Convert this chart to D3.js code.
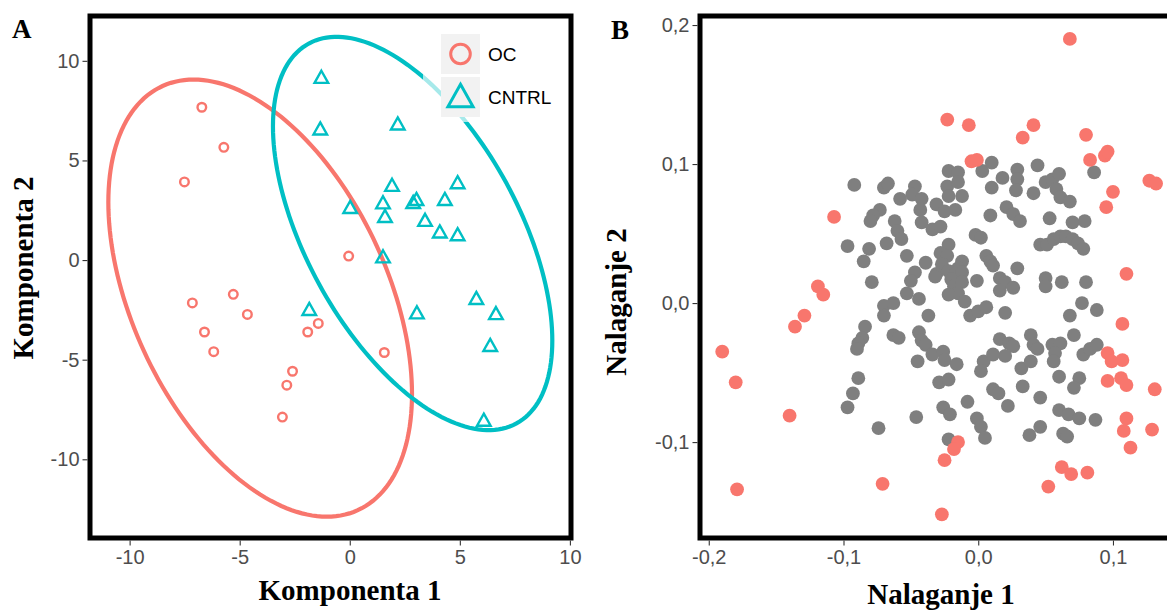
<!DOCTYPE html>
<html><head><meta charset="utf-8">
<script src="https://cdn.jsdelivr.net/npm/d3@7"></script>
<style>body{margin:0;background:#fff}</style>
</head><body><svg id="c" width="1167" height="610" xmlns="http://www.w3.org/2000/svg"></svg>
<script>
// ---------- Panel A data ----------
const groups = ["OC", "CNTRL"];
const groupColors = ["#F8766D", "#00BFC4"];
const ocX = [-6.72, -5.72, -7.51, -0.05, -7.15, -5.29, -4.65, -6.60, -6.18, -1.91, -1.43, -2.60, -2.86, -3.06, 1.57];
const ocY = [7.67, 5.66, 3.92, 0.20, -2.15, -1.72, -2.73, -3.61, -4.60, -3.61, -3.18, -5.58, -6.28, -7.88, -4.64];
const cntrlX = [-1.29, -1.34, 2.18, 0.02, 1.92, 1.51, 1.60, 2.88, 3.03, 3.42, 4.32, 4.90, 4.09, 4.90, 1.51, -1.84, 3.05, 5.75, 6.64, 6.38, 6.09];
const cntrlY = [9.13, 6.54, 6.79, 2.60, 3.71, 2.83, 2.15, 2.85, 3.00, 1.95, 3.00, 3.84, 1.37, 1.23, 0.12, -2.52, -2.69, -1.97, -2.73, -4.33, -8.08];
// confidence ellipses (centre, spread, covariance) per group
const ellipseCx = [-4.07, 2.856];
const ellipseCy = [-1.91, 1.335];
const ellipseSdX = [6.897, 6.345];
const ellipseSdY = [10.97, 9.87];
const ellipseCov = [-33.19, -34.12];
const ticksA = [-10, -5, 0, 5, 10];

// ---------- Panel B data ----------
const ticksB = [-0.2, -0.1, 0, 0.1, 0.2];
const loadingsGray = [
 [-0.092,0.085],[-0.070,0.083],[-0.067,0.086],[-0.058,0.075],[-0.047,0.084],[-0.049,0.078],[-0.042,0.075],[-0.043,0.067],
 [-0.042,0.058],[-0.034,0.053],[-0.028,0.055],[-0.022,0.095],[-0.015,0.094],[-0.023,0.084],[-0.015,0.087],[-0.022,0.077],
 [-0.031,0.071],[-0.025,0.066],[-0.017,0.067],[-0.012,0.077],[0.003,0.095],[0.010,0.101],[0.010,0.083],[0.009,0.063],
 [-0.073,0.067],[-0.078,0.063],[-0.080,0.059],[-0.062,0.059],[-0.060,0.052],[-0.057,0.046],[-0.068,0.043],[-0.097,0.041],
 [-0.081,0.039],[-0.085,0.030],[-0.053,0.034],[-0.039,0.029],[-0.022,0.042],[-0.028,0.036],[-0.023,0.034],[-0.012,0.030],
 [-0.015,0.025],[-0.027,0.028],[-0.031,0.021],[-0.022,0.023],[-0.017,0.021],[-0.012,0.022],[-0.020,0.017],[-0.018,0.012],
 [-0.012,0.015],[-0.015,0.007],[-0.022,0.006],[-0.002,0.049],[0.002,0.047],[0.006,0.034],[0.009,0.030],[0.011,0.027],
 [-0.047,0.022],[-0.050,0.016],[-0.053,0.007],[-0.044,0.003],[-0.079,0.015],[-0.032,0.019],[-0.001,0.016],[-0.070,-0.002],
 [-0.063,0.000],[-0.010,0.001],
 [0.018,0.090],[0.029,0.096],[0.029,0.089],[0.028,0.081],[0.044,0.099],[0.041,0.079],[0.050,0.087],[0.055,0.089],
 [0.060,0.093],[0.058,0.082],[0.061,0.076],[0.068,0.073],[0.021,0.069],[0.026,0.064],[0.031,0.059],[0.053,0.061],
 [0.070,0.058],[0.079,0.059],[0.086,0.094],
 [0.046,0.042],[0.051,0.042],[0.056,0.046],[0.061,0.048],[0.065,0.048],[0.070,0.046],[0.074,0.043],[0.078,0.039],
 [0.016,0.018],[0.020,0.015],[0.026,0.011],[0.016,0.009],[0.029,0.025],[0.050,0.018],[0.050,0.012],[0.062,0.015],
 [0.080,0.015],[0.077,0.000],
 [-0.037,-0.009],[-0.084,-0.017],[-0.086,-0.025],[-0.089,-0.029],[-0.090,-0.033],[-0.063,-0.023],[-0.059,-0.025],
 [-0.044,-0.021],[-0.042,-0.027],[-0.039,-0.030],[-0.034,-0.037],[-0.026,-0.035],[-0.025,-0.041],[-0.016,-0.044],
 [-0.045,-0.042],[-0.029,-0.057],[-0.022,-0.055],[-0.089,-0.054],[-0.093,-0.065],[-0.097,-0.075],[-0.008,-0.071],
 [-0.026,-0.075],[-0.021,-0.080],[-0.046,-0.082],[-0.074,-0.090],[-0.001,-0.083],[0.002,-0.089],[0.005,-0.097],
 [-0.022,-0.098],[-0.006,-0.009],[0.000,-0.006],[0.006,-0.003],[0.004,-0.042],[0.002,-0.049],[-0.070,-0.009],
 [0.020,-0.007],[0.088,-0.005],[0.068,-0.009],[0.071,-0.023],[0.039,-0.023],[0.041,-0.030],[0.044,-0.033],
 [0.016,-0.026],[0.023,-0.029],[0.026,-0.031],[0.020,-0.038],[0.011,-0.037],[0.055,-0.030],[0.061,-0.029],
 [0.057,-0.036],[0.056,-0.042],[0.078,-0.037],[0.083,-0.033],[0.088,-0.030],[0.032,-0.047],[0.039,-0.042],
 [0.060,-0.053],[0.075,-0.054],[0.071,-0.061],[0.033,-0.060],[0.011,-0.062],[0.015,-0.065],[0.046,-0.068],
 [0.022,-0.074],[0.060,-0.077],[0.067,-0.080],[0.075,-0.083],[0.087,-0.084],[0.046,-0.089],[0.038,-0.095],
 [0.063,-0.094],[0.066,-0.096]
];
const loadingsRed = [
 [0.068,0.190],[-0.023,0.132],[-0.007,0.128],[0.041,0.128],[0.033,0.119],[0.080,0.121],[-0.005,0.102],[-0.001,0.103],
 [0.083,0.103],[0.094,0.106],[0.096,0.109],[0.127,0.088],[0.132,0.086],[0.100,0.080],[0.095,0.069],[-0.107,0.062],
 [0.110,0.021],[-0.119,0.012],[-0.115,0.006],[-0.129,-0.009],[-0.136,-0.017],[0.107,-0.015],[-0.190,-0.035],[-0.180,-0.057],
 [0.096,-0.036],[0.099,-0.042],[0.107,-0.041],[0.096,-0.056],[0.106,-0.054],[0.110,-0.059],[0.131,-0.062],[-0.140,-0.081],
 [0.110,-0.083],[0.108,-0.092],[0.129,-0.091],[0.113,-0.104],[-0.015,-0.100],[-0.018,-0.105],[-0.025,-0.113],[-0.071,-0.130],
 [-0.179,-0.134],[-0.027,-0.152],[0.062,-0.118],[0.069,-0.123],[0.081,-0.122],[0.052,-0.132]
];

// ---------- drawing ----------
const svg = d3.select("#c");
const tickFont = "Liberation Sans, Arial, Helvetica, sans-serif";
const titleFont = "Liberation Serif, Times New Roman, serif";

const xA = d3.scaleLinear().domain([-11.8, 10.05]).range([90, 571]);
const yA = d3.scaleLinear().domain([12.25, -13.95]).range([16, 538]);
const xB = d3.scaleLinear().domain([-0.2065, 0.149]).range([700, 1179]);
const yB = d3.scaleLinear().domain([0.2065, -0.169]).range([16, 538]);

const defs = svg.append("defs");
defs.append("clipPath").attr("id", "clipA").append("rect").attr("x", 90).attr("y", 16).attr("width", 481).attr("height", 522);
defs.append("clipPath").attr("id", "clipB").append("rect").attr("x", 700).attr("y", 16).attr("width", 479).attr("height", 522);

// ----- Panel A -----
const gA = svg.append("g").attr("clip-path", "url(#clipA)");
const line = d3.line().x(d => xA(d[0])).y(d => yA(d[1])).curve(d3.curveLinearClosed);
groups.forEach((g, i) => {
  const a = ellipseSdX[i], b = ellipseCov[i] / ellipseSdX[i];
  const c = Math.sqrt(ellipseSdY[i] * ellipseSdY[i] - b * b);
  const pts = d3.range(0, 360, 2).map(deg => {
    const t = deg * Math.PI / 180;
    return [ellipseCx[i] + a * Math.cos(t), ellipseCy[i] + b * Math.cos(t) + c * Math.sin(t)];
  });
  gA.append("path").attr("d", line(pts)).attr("fill", "none")
    .attr("stroke", groupColors[i]).attr("stroke-width", 4.2);
});
gA.selectAll("circle.oc").data(ocX.map((x, i) => [x, ocY[i]])).join("circle")
  .attr("class", "oc").attr("cx", d => xA(d[0])).attr("cy", d => yA(d[1])).attr("r", 4.3)
  .attr("fill", "none").attr("stroke", groupColors[0]).attr("stroke-width", 2.4);
const tri = (cx, cy, s) => `M${cx},${cy - 7.4 * s}L${cx + 6.8 * s},${cy + 4.7 * s}L${cx - 6.8 * s},${cy + 4.7 * s}Z`;
gA.selectAll("path.cn").data(cntrlX.map((x, i) => [x, cntrlY[i]])).join("path")
  .attr("class", "cn").attr("d", d => tri(xA(d[0]), yA(d[1]), 1))
  .attr("fill", "none").attr("stroke", groupColors[1]).attr("stroke-width", 2.4).attr("stroke-linejoin", "miter");

// legend
const leg = svg.append("g");
leg.append("rect").attr("x", 423).attr("y", 18).attr("width", 146).attr("height", 104).attr("fill", "#fff").attr("fill-opacity", 0.65);
leg.append("rect").attr("x", 441).attr("y", 34).attr("width", 39).attr("height", 40).attr("fill", "#F2F2F2");
leg.append("rect").attr("x", 441).attr("y", 77).attr("width", 39).attr("height", 40).attr("fill", "#F2F2F2");
leg.append("circle").attr("cx", 460.5).attr("cy", 54).attr("r", 9.8).attr("fill", "none").attr("stroke", groupColors[0]).attr("stroke-width", 3);
leg.append("path").attr("d", tri(460.5, 98, 1.85)).attr("fill", "none").attr("stroke", groupColors[1]).attr("stroke-width", 3);
leg.selectAll("text.lt").data(groups).join("text").attr("class", "lt")
  .attr("x", 488).attr("y", (d, i) => 54 + i * 43).attr("dy", "0.35em")
  .attr("font-family", tickFont).attr("font-size", 19).attr("fill", "#000").text(d => d);

svg.append("rect").attr("x", 90).attr("y", 16).attr("width", 481).attr("height", 522)
  .attr("fill", "none").attr("stroke", "#000").attr("stroke-width", 5);

function styleAxis(g) {
  g.select(".domain").remove();
  g.selectAll(".tick line").attr("stroke", "#333").attr("stroke-width", 1.1);
  g.selectAll(".tick text").attr("fill", "#4D4D4D").attr("font-family", tickFont).attr("font-size", 20);
}
svg.append("g").attr("transform", "translate(87.5,0)")
  .call(d3.axisLeft(yA).tickValues(ticksA).tickSize(5).tickPadding(3).tickFormat(d => String(d))).call(styleAxis);
svg.append("g").attr("transform", "translate(0,540.5)")
  .call(d3.axisBottom(xA).tickValues(ticksA).tickSize(5).tickPadding(4).tickFormat(d => String(d))).call(styleAxis);

svg.append("text").attr("x", 350).attr("y", 600).attr("text-anchor", "middle")
  .attr("font-family", titleFont).attr("font-weight", "bold").attr("font-size", 29).text("Komponenta 1");
svg.append("text").attr("transform", "translate(33,268) rotate(-90)").attr("text-anchor", "middle")
  .attr("font-family", titleFont).attr("font-weight", "bold").attr("font-size", 29).text("Komponenta 2");
svg.append("text").attr("x", 12).attr("y", 38).attr("font-family", titleFont).attr("font-weight", "bold").attr("font-size", 27).text("A");

// ----- Panel B -----
const gB = svg.append("g").attr("clip-path", "url(#clipB)");
gB.selectAll("circle.g").data(loadingsGray).join("circle").attr("class", "g")
  .attr("cx", d => xB(d[0])).attr("cy", d => yB(d[1])).attr("r", 6.9).attr("fill", "#7F7F7F");
gB.selectAll("circle.r").data(loadingsRed).join("circle").attr("class", "r")
  .attr("cx", d => xB(d[0])).attr("cy", d => yB(d[1])).attr("r", 6.9).attr("fill", "#F8766D");

svg.append("rect").attr("x", 700).attr("y", 16).attr("width", 479).attr("height", 522)
  .attr("fill", "none").attr("stroke", "#000").attr("stroke-width", 5);

const fmtB = d => d.toFixed(1).replace(".", ",");
svg.append("g").attr("transform", "translate(697.5,0)")
  .call(d3.axisLeft(yB).tickValues(ticksB.filter(v => v <= 0.2065 && v >= -0.169)).tickSize(5).tickPadding(3).tickFormat(fmtB)).call(styleAxis);
svg.append("g").attr("transform", "translate(0,540.5)")
  .call(d3.axisBottom(xB).tickValues(ticksB.filter(v => v <= 0.149 && v >= -0.2065)).tickSize(5).tickPadding(4).tickFormat(fmtB)).call(styleAxis);

svg.append("text").attr("x", 941).attr("y", 604).attr("text-anchor", "middle")
  .attr("font-family", titleFont).attr("font-weight", "bold").attr("font-size", 29).text("Nalaganje 1");
svg.append("text").attr("transform", "translate(626,302) rotate(-90)").attr("text-anchor", "middle")
  .attr("font-family", titleFont).attr("font-weight", "bold").attr("font-size", 29).text("Nalaganje 2");
svg.append("text").attr("x", 611).attr("y", 39).attr("font-family", titleFont).attr("font-weight", "bold").attr("font-size", 27).text("B");
</script>
</body></html>
